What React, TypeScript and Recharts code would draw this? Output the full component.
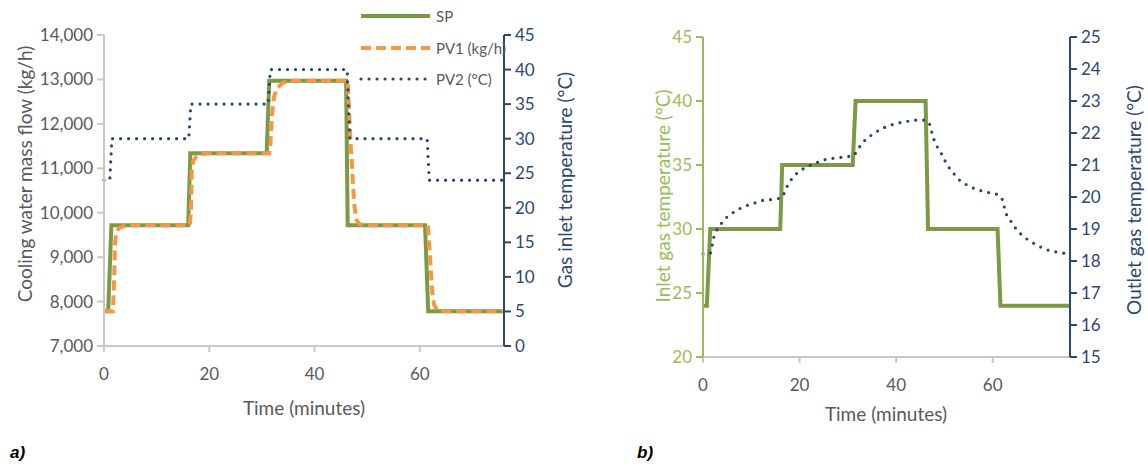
import React from 'react';
import { LineChart, Line, XAxis, YAxis } from 'recharts';

// ---- chart a) : cooling water flow vs gas inlet temperature ----
const timeTicks = [0, 20, 40, 60];
const flowTicks = [7000, 8000, 9000, 10000, 11000, 12000, 13000, 14000];
const gasInTicks = [0, 5, 10, 15, 20, 25, 30, 35, 40, 45];

const spFlow = [
  { t: 0, v: 7780 }, { t: 0.8, v: 7780 }, { t: 1.4, v: 9720 },
  { t: 16.0, v: 9720 }, { t: 16.4, v: 11340 },
  { t: 30.9, v: 11340 }, { t: 31.4, v: 12970 },
  { t: 46.0, v: 12970 }, { t: 46.3, v: 9720 },
  { t: 61.0, v: 9720 }, { t: 61.6, v: 7780 }, { t: 76, v: 7780 },
];

const pv1Flow = [
  { t: 0, v: 7780 }, { t: 1.7, v: 7780 }, { t: 1.9, v: 8400 }, { t: 2.1, v: 9300 },
  { t: 2.3, v: 9550 }, { t: 2.8, v: 9650 }, { t: 3.6, v: 9690 }, { t: 4.5, v: 9720 },
  { t: 16.3, v: 9720 }, { t: 16.5, v: 10000 }, { t: 16.7, v: 11000 }, { t: 17.0, v: 11180 },
  { t: 17.6, v: 11270 }, { t: 18.5, v: 11320 }, { t: 19.5, v: 11340 },
  { t: 31.4, v: 11340 }, { t: 31.6, v: 11500 }, { t: 31.9, v: 12170 }, { t: 32.3, v: 12600 },
  { t: 32.8, v: 12800 }, { t: 34.1, v: 12930 }, { t: 35.4, v: 12970 },
  { t: 46.3, v: 12970 }, { t: 46.8, v: 11700 }, { t: 47.5, v: 10250 }, { t: 47.9, v: 9850 },
  { t: 48.5, v: 9750 }, { t: 49.3, v: 9720 },
  { t: 61.5, v: 9720 }, { t: 61.9, v: 9100 }, { t: 62.3, v: 8300 }, { t: 62.7, v: 7930 },
  { t: 63.3, v: 7810 }, { t: 64.0, v: 7780 }, { t: 76, v: 7780 },
];

const pv2Temp = [
  { t: 0, v: 24 }, { t: 1.1, v: 24 }, { t: 1.5, v: 30 },
  { t: 16.1, v: 30 }, { t: 16.5, v: 35 },
  { t: 31.2, v: 35 }, { t: 31.6, v: 40 },
  { t: 46.2, v: 40 }, { t: 46.7, v: 30 },
  { t: 61.4, v: 30 }, { t: 61.8, v: 24 }, { t: 76, v: 24 },
];

// ---- chart b) : inlet vs outlet gas temperature ----
const inletTicks = [20, 25, 30, 35, 40, 45];
const outletTicks = [15, 16, 17, 18, 19, 20, 21, 22, 23, 24, 25];

const inletTemp = [
  { t: 0, v: 24 }, { t: 0.8, v: 24 }, { t: 1.5, v: 30 },
  { t: 16.0, v: 30 }, { t: 16.4, v: 35 },
  { t: 31.0, v: 35 }, { t: 31.6, v: 40 },
  { t: 46.1, v: 40 }, { t: 46.6, v: 30 },
  { t: 61.0, v: 30 }, { t: 61.6, v: 24 }, { t: 76, v: 24 },
];

const outletTemp = [
  { t: 0, v: 18.23 }, { t: 1.5, v: 18.23 }, { t: 1.9, v: 18.49 }, { t: 2.2, v: 18.73 },
  { t: 2.9, v: 18.98 }, { t: 3.9, v: 19.19 }, { t: 5.0, v: 19.38 }, { t: 6.4, v: 19.53 },
  { t: 7.9, v: 19.66 }, { t: 9.5, v: 19.76 }, { t: 11.1, v: 19.83 }, { t: 12.7, v: 19.91 },
  { t: 14.5, v: 19.92 }, { t: 16.2, v: 19.97 }, { t: 17.0, v: 20.16 }, { t: 17.6, v: 20.4 },
  { t: 18.6, v: 20.61 }, { t: 19.7, v: 20.78 }, { t: 21.3, v: 20.93 }, { t: 22.9, v: 21.03 },
  { t: 24.5, v: 21.14 }, { t: 26.1, v: 21.2 }, { t: 27.9, v: 21.22 }, { t: 29.5, v: 21.26 },
  { t: 31.2, v: 21.28 }, { t: 32.1, v: 21.49 }, { t: 33.0, v: 21.7 }, { t: 34.2, v: 21.86 },
  { t: 35.6, v: 22.01 }, { t: 37.2, v: 22.15 }, { t: 38.7, v: 22.24 }, { t: 40.4, v: 22.31 },
  { t: 42.1, v: 22.36 }, { t: 43.7, v: 22.4 }, { t: 45.5, v: 22.41 }, { t: 46.8, v: 22.34 },
  { t: 47.3, v: 22.08 }, { t: 47.7, v: 21.84 }, { t: 48.4, v: 21.59 }, { t: 49.2, v: 21.4 },
  { t: 50.0, v: 21.16 }, { t: 50.9, v: 20.93 }, { t: 52.0, v: 20.72 }, { t: 53.1, v: 20.53 },
  { t: 54.5, v: 20.39 }, { t: 56.1, v: 20.27 }, { t: 57.7, v: 20.19 }, { t: 59.4, v: 20.13 },
  { t: 61.1, v: 20.08 }, { t: 62.0, v: 19.92 }, { t: 62.4, v: 19.68 }, { t: 62.9, v: 19.43 },
  { t: 63.9, v: 19.21 }, { t: 64.9, v: 18.99 }, { t: 66.0, v: 18.81 }, { t: 67.4, v: 18.65 },
  { t: 68.8, v: 18.52 }, { t: 70.4, v: 18.4 }, { t: 72.0, v: 18.31 }, { t: 73.7, v: 18.27 },
  { t: 75.3, v: 18.23 }, { t: 76, v: 18.22 },
];

const GREEN = '#7a9a45';
const LIGHT_GREEN = '#9bbb59';
const ORANGE = '#f79646';
const NAVY = '#254670';
const AXIS_NAVY = '#2b4871';
const GRAY_TEXT = '#595959';
const GRAY_LINE = '#c8c8c8';
const FONT = 'Lato, "Open Sans", sans-serif';

const tickStyle = (color: string) => ({ fill: color, fontSize: 17, fontFamily: FONT });

const Title = ({ x, y, text, color, rotate = false }: any) => (
  <div
    style={{
      position: 'absolute', left: x, top: y, whiteSpace: 'nowrap',
      transform: `translate(-50%, -50%)${rotate ? ' rotate(-90deg)' : ''}`,
      color, fontSize: 19, fontFamily: FONT,
    }}
  >
    {text}
  </div>
);

const LegendRow = ({ y, label, color, dash, cap }: any) => (
  <div style={{ position: 'absolute', left: 358, top: y - 10, height: 20, display: 'flex', alignItems: 'center' }}>
    <svg width={76} height={20}>
      <line x1={3} y1={10} x2={72} y2={10} stroke={color} strokeWidth={dash === '0 8' ? 3.2 : 4}
        strokeDasharray={dash} strokeLinecap={cap} />
    </svg>
    <span style={{ color: GRAY_TEXT, fontSize: 15, fontFamily: FONT, marginLeft: 2 }}>{label}</span>
  </div>
);

export default function App() {
  return (
    <div style={{ position: 'absolute', left: 0, top: 0, width: 1148, height: 465, background: '#fff', fontFamily: FONT }}>
      {/* chart a) */}
      <div style={{ position: 'absolute', left: 0, top: 0 }}>
        <LineChart width={600} height={420} margin={{ top: 35, right: 36, bottom: 0, left: 34 }}>
          <XAxis dataKey="t" type="number" domain={[0, 76]} ticks={timeTicks} height={74}
            tick={tickStyle(GRAY_TEXT)} tickMargin={16} tickSize={6}
            axisLine={{ stroke: GRAY_LINE, strokeWidth: 2 }} tickLine={{ stroke: GRAY_LINE, strokeWidth: 2 }}
            allowDuplicatedCategory={false} />
          <YAxis yAxisId="flow" domain={[7000, 14000]} ticks={flowTicks} width={70}
            tickFormatter={(v: number) => v.toLocaleString('en-US')}
            tick={tickStyle(GRAY_TEXT)} tickSize={7} tickMargin={4}
            axisLine={{ stroke: GRAY_LINE, strokeWidth: 2 }} tickLine={{ stroke: GRAY_LINE, strokeWidth: 2 }} />
          <YAxis yAxisId="temp" orientation="right" domain={[0, 45]} ticks={gasInTicks} width={60}
            tick={tickStyle(AXIS_NAVY)} tickSize={7} tickMargin={4}
            axisLine={{ stroke: AXIS_NAVY, strokeWidth: 2 }} tickLine={{ stroke: AXIS_NAVY, strokeWidth: 2 }} />
          <Line yAxisId="flow" data={spFlow} dataKey="v" type="linear" stroke={GREEN} strokeWidth={4}
            dot={false} activeDot={false} isAnimationActive={false} />
          <Line yAxisId="flow" data={pv1Flow} dataKey="v" type="linear" stroke={ORANGE} strokeWidth={4}
            strokeDasharray="10 5" dot={false} activeDot={false} isAnimationActive={false} />
          <Line yAxisId="temp" data={pv2Temp} dataKey="v" type="linear" stroke={NAVY} strokeWidth={3.2}
            strokeDasharray="0 8" strokeLinecap="round" dot={false} activeDot={false} isAnimationActive={false} />
        </LineChart>
      </div>
      <Title x={24} y={174} text="Cooling water mass flow (kg/h)" color={GRAY_TEXT} rotate />
      <Title x={564} y={180} text="Gas inlet temperature (°C)" color={AXIS_NAVY} rotate />
      <Title x={304} y={407} text="Time (minutes)" color={GRAY_TEXT} />
      <LegendRow y={16} label="SP" color={GREEN} dash={undefined} cap="butt" />
      <LegendRow y={48} label="PV1 (kg/h)" color={ORANGE} dash="10 5" cap="butt" />
      <LegendRow y={79} label="PV2 (°C)" color={NAVY} dash="0 8" cap="round" />

      {/* chart b) */}
      <div style={{ position: 'absolute', left: 600, top: 0 }}>
        <LineChart width={548} height={420} margin={{ top: 37, right: 18, bottom: 0, left: 32 }}>
          <XAxis dataKey="t" type="number" domain={[0, 76]} ticks={timeTicks} height={63}
            tick={tickStyle(GRAY_TEXT)} tickMargin={16} tickSize={6}
            axisLine={{ stroke: GRAY_LINE, strokeWidth: 2 }} tickLine={{ stroke: GRAY_LINE, strokeWidth: 2 }}
            allowDuplicatedCategory={false} />
          <YAxis yAxisId="inlet" domain={[20, 45]} ticks={inletTicks} width={71}
            tick={tickStyle(LIGHT_GREEN)} tickSize={7} tickMargin={4}
            axisLine={{ stroke: LIGHT_GREEN, strokeWidth: 2 }} tickLine={{ stroke: LIGHT_GREEN, strokeWidth: 2 }} />
          <YAxis yAxisId="outlet" orientation="right" domain={[15, 25]} ticks={outletTicks} width={60}
            tick={tickStyle(AXIS_NAVY)} tickSize={7} tickMargin={4}
            axisLine={{ stroke: AXIS_NAVY, strokeWidth: 2 }} tickLine={{ stroke: AXIS_NAVY, strokeWidth: 2 }} />
          <Line yAxisId="inlet" data={inletTemp} dataKey="v" type="linear" stroke={GREEN} strokeWidth={4}
            dot={false} activeDot={false} isAnimationActive={false} />
          <Line yAxisId="outlet" data={outletTemp} dataKey="v" type="linear" stroke={NAVY} strokeWidth={3.2}
            strokeDasharray="0 8" strokeLinecap="round" dot={false} activeDot={false} isAnimationActive={false} />
        </LineChart>
      </div>
      <Title x={662} y={196} text="Inlet gas temperature (°C)" color={LIGHT_GREEN} rotate />
      <Title x={1133} y={200} text="Outlet gas temperature (°C)" color={AXIS_NAVY} rotate />
      <Title x={886} y={413} text="Time (minutes)" color={GRAY_TEXT} />

      <div style={{ position: 'absolute', left: 10, top: 443, fontSize: 17, fontWeight: 'bold', fontStyle: 'italic', fontFamily: 'Liberation Sans, Arial, sans-serif' }}>a)</div>
      <div style={{ position: 'absolute', left: 637, top: 443, fontSize: 17, fontWeight: 'bold', fontStyle: 'italic', fontFamily: 'Liberation Sans, Arial, sans-serif' }}>b)</div>
    </div>
  );
}
